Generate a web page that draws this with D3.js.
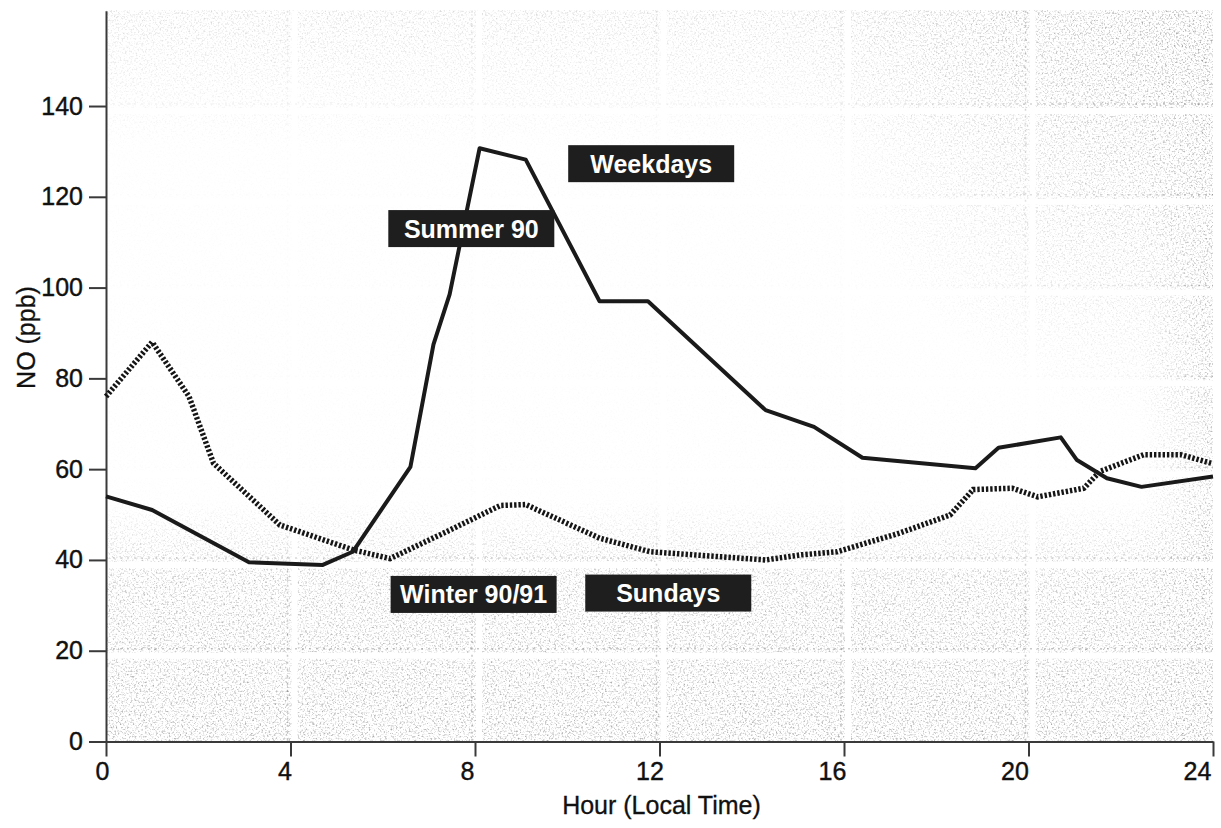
<!DOCTYPE html>
<html>
<head>
<meta charset="utf-8">
<script src="https://cdn.jsdelivr.net/npm/d3@7"></script>
<style>
  html, body { margin: 0; padding: 0; background: #fff; }
  svg { display: block; font-family: "Liberation Sans", Arial, Helvetica, sans-serif; }
</style>
</head>
<body>
<svg id="chart" width="1221" height="828"></svg>
<script>
// Mean diurnal NO cycle (ppb)
const summerHours = [0, 1.0, 3.1, 4.7, 5.35, 6.6, 7.1, 7.45, 8.1, 9.1, 10.7, 11.75, 14.3, 15.35, 16.4, 18.85, 19.35, 20.7, 21.05, 21.7, 22.45, 24];
const summerNO    = [54, 51, 39.5, 38.9, 41.8, 60.5, 87.5, 98.5, 130.7, 128.2, 97, 97, 73, 69.3, 62.5, 60.2, 64.7, 67, 62, 58, 56.1, 58.4];

const winterHours = [0, 1.0, 1.8, 2.33, 3.77, 5.36, 6.16, 7.46, 8.55, 9.1, 10.7, 11.8, 14.3, 15.05, 15.85, 17.2, 18.3, 18.8, 19.65, 20.2, 21.2, 21.55, 22.5, 23.3, 24];
const winterNO    = [76, 88, 76, 61.3, 47.7, 42.2, 40.3, 46.6, 52, 52.2, 44.8, 41.8, 40, 41.1, 41.8, 45.9, 49.9, 55.5, 55.8, 53.9, 55.8, 59.5, 63.2, 63.2, 61.2];

const xTicks = [0, 4, 8, 12, 16, 20, 24];
const yTicks = [0, 20, 40, 60, 80, 100, 120, 140];

// Tag labels, anchored in (hour, ppb)
const tagText  = ["Weekdays", "Summer 90", "Winter 90/91", "Sundays"];
const tagHour  = [11.82, 7.92, 7.97, 12.19];
const tagValue = [127.3, 113.0, 32.4, 32.7];

const svg = d3.select("#chart");
const x = d3.scaleLinear().domain([0, 24]).range([106, 1213]);
const y = d3.scaleLinear().domain([0, 161]).range([741.5, 10.7]);

// ---- paper grain of the printed figure ----
const defs = svg.append("defs");
const grain = defs.append("filter").attr("id", "grain")
  .attr("filterUnits", "userSpaceOnUse")
  .attr("x", x(0)).attr("y", y(161)).attr("width", x(24) - x(0)).attr("height", y(0) - y(161));
grain.append("feTurbulence").attr("type", "fractalNoise")
  .attr("baseFrequency", 0.55).attr("numOctaves", 2).attr("seed", 7);
grain.append("feColorMatrix").attr("type", "matrix")
  .attr("values", "0 0 0 0 0.35  0 0 0 0 0.35  0 0 0 0 0.35  2.8 0 0 0 -1.4");

const gBottom = defs.append("linearGradient").attr("id", "gBottom")
  .attr("gradientUnits", "userSpaceOnUse").attr("x1", 0).attr("x2", 0).attr("y1", 500).attr("y2", 741);
gBottom.append("stop").attr("offset", 0).attr("stop-color", "#fff").attr("stop-opacity", 0);
gBottom.append("stop").attr("offset", 0.3).attr("stop-color", "#fff").attr("stop-opacity", 0.7);
gBottom.append("stop").attr("offset", 1).attr("stop-color", "#fff").attr("stop-opacity", 0.9);

const gTop = defs.append("linearGradient").attr("id", "gTop")
  .attr("gradientUnits", "userSpaceOnUse").attr("x1", 0).attr("x2", 0).attr("y1", 10).attr("y2", 150);
gTop.append("stop").attr("offset", 0).attr("stop-color", "#fff").attr("stop-opacity", 0.4);
gTop.append("stop").attr("offset", 1).attr("stop-color", "#fff").attr("stop-opacity", 0);

const gCorner = defs.append("radialGradient").attr("id", "gCorner")
  .attr("gradientUnits", "userSpaceOnUse").attr("cx", 1213).attr("cy", 10).attr("r", 420);
gCorner.append("stop").attr("offset", 0).attr("stop-color", "#fff").attr("stop-opacity", 1);
gCorner.append("stop").attr("offset", 0.5).attr("stop-color", "#fff").attr("stop-opacity", 0.55);
gCorner.append("stop").attr("offset", 1).attr("stop-color", "#fff").attr("stop-opacity", 0);

const gRight = defs.append("linearGradient").attr("id", "gRight")
  .attr("gradientUnits", "userSpaceOnUse").attr("x1", 1140).attr("x2", 1213).attr("y1", 0).attr("y2", 0);
gRight.append("stop").attr("offset", 0).attr("stop-color", "#fff").attr("stop-opacity", 0);
gRight.append("stop").attr("offset", 1).attr("stop-color", "#fff").attr("stop-opacity", 0.8);

const mask = defs.append("mask").attr("id", "fade").attr("maskUnits", "userSpaceOnUse")
  .attr("x", 0).attr("y", 0).attr("width", 1221).attr("height", 828);
mask.append("rect").attr("width", 1221).attr("height", 828).attr("fill", "#0a0a0a");
mask.append("rect").attr("x", 0).attr("y", 500).attr("width", 1221).attr("height", 250).attr("fill", "url(#gBottom)");
mask.append("rect").attr("x", 0).attr("y", 10).attr("width", 1221).attr("height", 150).attr("fill", "url(#gTop)");
mask.append("rect").attr("x", 700).attr("y", 0).attr("width", 521).attr("height", 480).attr("fill", "url(#gCorner)");
mask.append("rect").attr("x", 1140).attr("y", 0).attr("width", 81).attr("height", 750).attr("fill", "url(#gRight)");

const paper = svg.append("g").attr("mask", "url(#fade)");
paper.append("rect")
  .attr("x", x(0)).attr("y", y(161)).attr("width", x(24) - x(0)).attr("height", y(0) - y(161))
  .attr("fill", "#000").attr("filter", "url(#grain)");

// faint printed grid with blank gutters beside it
const gridH = yTicks.filter(v => v > 0);
const gridV = xTicks.filter(h => h > 0 && h < 24);
paper.selectAll(".gapH").data(gridH).join("line")
  .attr("x1", x(0)).attr("x2", x(24)).attr("y1", d => y(d) + 5).attr("y2", d => y(d) + 5)
  .attr("stroke", "#fff").attr("stroke-width", 6);
paper.selectAll(".gapV").data(gridV).join("line")
  .attr("y1", y(161)).attr("y2", y(0)).attr("x1", d => x(d) + 4).attr("x2", d => x(d) + 4)
  .attr("stroke", "#fff").attr("stroke-width", 6);
paper.selectAll(".gridH").data(gridH).join("line")
  .attr("x1", x(0)).attr("x2", x(24)).attr("y1", d => y(d) - 2).attr("y2", d => y(d) - 2)
  .attr("stroke", "#555").attr("stroke-width", 1.5).attr("stroke-dasharray", "2,5").attr("opacity", 0.4);
paper.selectAll(".gridV").data(gridV).join("line")
  .attr("y1", y(161)).attr("y2", y(0)).attr("x1", d => x(d) - 3).attr("x2", d => x(d) - 3)
  .attr("stroke", "#555").attr("stroke-width", 1.5).attr("stroke-dasharray", "2,5").attr("opacity", 0.4);

// ---- axes ----
const axisColor = "#3a3a3a";
const labelFont = "'Liberation Sans', Arial, Helvetica, sans-serif";
const yAxis = svg.append("g").attr("transform", `translate(${x(0)},0)`)
  .call(d3.axisLeft(y).tickValues(yTicks).tickSize(17).tickPadding(6).tickSizeOuter(0));
const xAxis = svg.append("g").attr("transform", `translate(0,${y(0)})`)
  .call(d3.axisBottom(x).tickValues(xTicks).tickSize(15).tickPadding(6).tickSizeOuter(0));
[yAxis, xAxis].forEach(a => {
  a.select(".domain").attr("stroke", axisColor).attr("stroke-width", 2);
  a.selectAll(".tick line").attr("stroke", axisColor).attr("stroke-width", 2);
  a.selectAll(".tick text").attr("fill", "#111").attr("font-size", 25)
    .attr("font-family", labelFont)
    .attr("stroke", "#111").attr("stroke-width", 0.4);
});
xAxis.selectAll(".tick text").attr("dx", d => -(4 + d * 0.5));

svg.append("text")
  .attr("x", (x(0) + x(24)) / 2 + 2).attr("y", 814)
  .attr("text-anchor", "middle").attr("font-size", 25).attr("fill", "#111")
  .attr("stroke", "#111").attr("stroke-width", 0.3)
  .text("Hour (Local Time)");
svg.append("text")
  .attr("transform", `translate(35,${y(89)}) rotate(-90)`)
  .attr("text-anchor", "middle").attr("font-size", 25).attr("fill", "#111")
  .attr("stroke", "#111").attr("stroke-width", 0.3)
  .text("NO (ppb)");

// ---- series ----
const line = d3.line().x(d => x(d[0])).y(d => y(d[1]));
svg.append("path")
  .datum(winterHours.map((h, i) => [h, winterNO[i]]))
  .attr("d", line).attr("fill", "none")
  .attr("stroke", "#151515").attr("stroke-width", 5.5).attr("stroke-dasharray", "2.4,1.9");
svg.append("path")
  .datum(summerHours.map((h, i) => [h, summerNO[i]]))
  .attr("d", line).attr("fill", "none")
  .attr("stroke", "#1a1a1a").attr("stroke-width", 4).attr("stroke-linejoin", "round");

// ---- tags ----
const tagW = 166, tagH = 37;
const tags = svg.selectAll(".tag").data(tagText).join("g")
  .attr("transform", (d, i) => `translate(${x(tagHour[i])},${y(tagValue[i])})`);
tags.append("rect")
  .attr("x", -tagW / 2).attr("y", -tagH / 2).attr("width", tagW).attr("height", tagH)
  .attr("fill", "#1e1e1e");
tags.append("text")
  .attr("text-anchor", "middle").attr("dy", "0.36em")
  .attr("font-size", 25).attr("font-weight", "bold").attr("fill", "#fff")
  .text(d => d);
</script>
</body>
</html>
